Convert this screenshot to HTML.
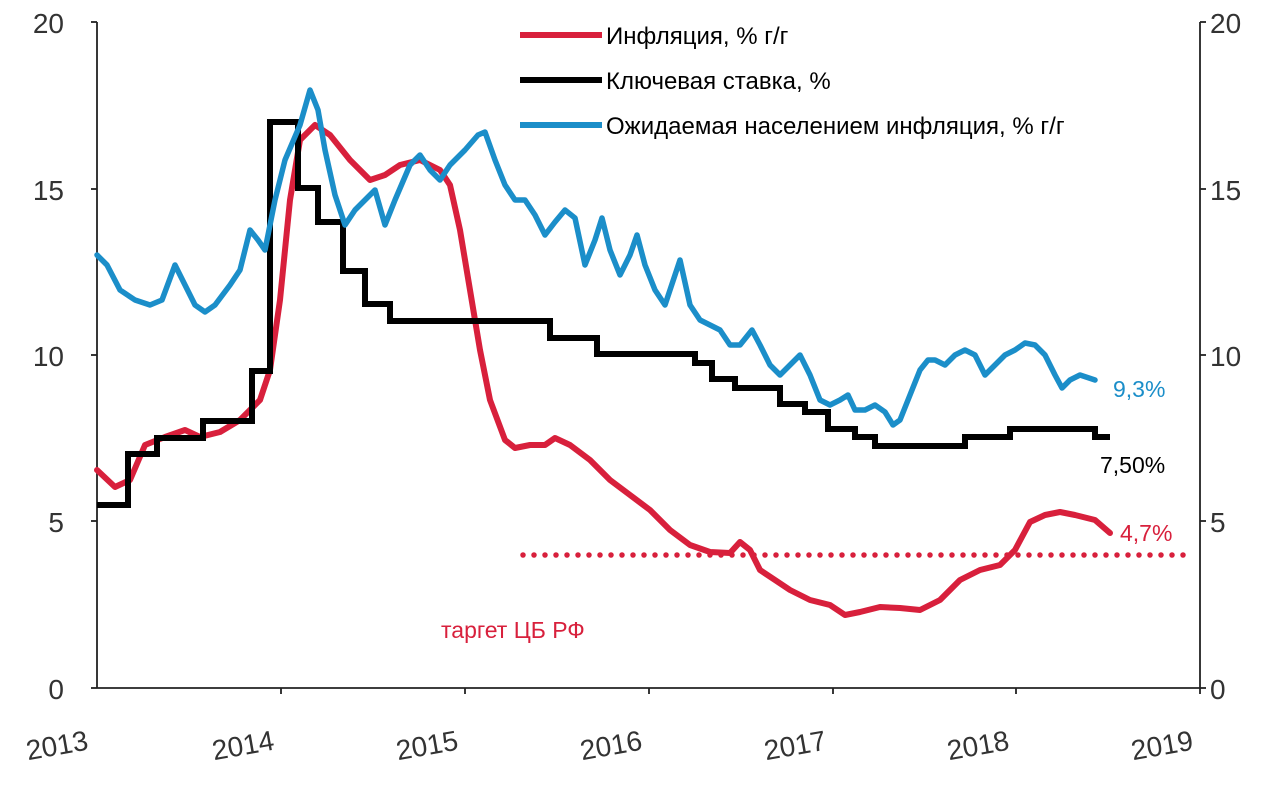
<!DOCTYPE html>
<html><head><meta charset="utf-8"><style>
body{margin:0;background:#fff;}
svg text{font-family:"Liberation Sans",sans-serif;}
</style></head><body>
<svg width="1280" height="792" viewBox="0 0 1280 792" xmlns="http://www.w3.org/2000/svg">
<rect width="1280" height="792" fill="#fff"/>
<g stroke="#222" stroke-width="1.8" fill="none">
<line x1="97" y1="22" x2="97" y2="688"/>
<line x1="1200" y1="22" x2="1200" y2="688"/>
<line x1="97" y1="688" x2="1200" y2="688"/>
<line x1="91" y1="22" x2="97" y2="22"/><line x1="91" y1="189" x2="97" y2="189"/><line x1="91" y1="355" x2="97" y2="355"/><line x1="91" y1="521" x2="97" y2="521"/><line x1="91" y1="688" x2="97" y2="688"/>
<line x1="1200" y1="22" x2="1206" y2="22"/><line x1="1200" y1="189" x2="1206" y2="189"/><line x1="1200" y1="355" x2="1206" y2="355"/><line x1="1200" y1="521" x2="1206" y2="521"/><line x1="1200" y1="688" x2="1206" y2="688"/>
<line x1="281" y1="688" x2="281" y2="694"/><line x1="465" y1="688" x2="465" y2="694"/><line x1="649" y1="688" x2="649" y2="694"/><line x1="833" y1="688" x2="833" y2="694"/><line x1="1016" y1="688" x2="1016" y2="694"/><line x1="1200" y1="688" x2="1200" y2="694"/>
</g>
<g font-size="28" fill="#333" text-anchor="end">
<text x="64" y="33">20</text><text x="64" y="200">15</text><text x="64" y="366">10</text><text x="64" y="532">5</text><text x="64" y="699">0</text>
</g>
<g font-size="28" fill="#333" text-anchor="start">
<text x="1210" y="33">20</text><text x="1210" y="200">15</text><text x="1210" y="366">10</text><text x="1210" y="532">5</text><text x="1210" y="699">0</text>
</g>
<g font-size="28" fill="#333" text-anchor="middle">
<text x="57" y="755" transform="rotate(-10 57 745)">2013</text>
<text x="243" y="755" transform="rotate(-10 243 745)">2014</text>
<text x="427" y="755" transform="rotate(-10 427 745)">2015</text>
<text x="611" y="755" transform="rotate(-10 611 745)">2016</text>
<text x="795" y="755" transform="rotate(-10 795 745)">2017</text>
<text x="978" y="755" transform="rotate(-10 978 745)">2018</text>
<text x="1162" y="755" transform="rotate(-10 1162 745)">2019</text>
</g>
<line x1="523" y1="555" x2="1190" y2="555" stroke="#d8203c" stroke-width="5.5" stroke-dasharray="0 11" stroke-linecap="round"/>
<polyline fill="none" stroke="#d8203c" stroke-width="6" stroke-linejoin="round" stroke-linecap="round" points="97,470 115,487 130,480 145,445 165,437 185,430 200,437 220,432 240,420 260,400 270,370 280,300 290,200 300,140 315,125 330,135 350,160 370,180 385,175 400,165 420,160 440,170 450,185 460,230 470,290 480,350 490,400 505,440 515,448 530,445 545,445 555,438 570,445 590,460 610,480 630,495 650,510 670,530 690,545 710,552 730,553 740,542 750,550 760,570 775,580 790,590 810,600 830,605 845,615 860,612 880,607 900,608 920,610 940,600 960,580 980,570 1000,565 1015,550 1030,522 1045,515 1060,512 1075,515 1095,520 1110,533"/>
<polyline fill="none" stroke="#000" stroke-width="6" points="97,505 128,505 128,454 157,454 157,438 203,438 203,421 252,421 252,371 270,371 270,122 298,122 298,188 318,188 318,222 343,222 343,271 365,271 365,304 390,304 390,321 550,321 550,338 597,338 597,354 695,354 695,363 712,363 712,379 735,379 735,388 780,388 780,404 805,404 805,412 828,412 828,429 855,429 855,437 875,437 875,446 965,446 965,437 1010,437 1010,429 1095,429 1095,437 1110,437"/>
<polyline fill="none" stroke="#1b8ec9" stroke-width="5.5" stroke-linejoin="round" stroke-linecap="round" points="97,255 107,265 120,290 135,300 150,305 162,300 175,265 185,285 195,305 205,312 215,305 230,285 240,270 250,230 258,240 265,250 275,200 285,160 300,125 310,90 318,110 325,150 335,195 345,225 355,210 365,200 375,190 385,225 395,200 410,165 420,155 430,170 440,180 450,165 465,150 478,135 485,132 495,160 505,185 515,200 525,200 535,215 545,235 555,222 565,210 575,218 585,265 595,240 602,218 610,250 620,275 630,255 637,235 645,265 655,290 665,305 675,275 680,260 690,305 700,320 710,325 720,330 730,345 740,345 752,330 760,345 770,365 780,375 790,365 800,355 810,375 820,400 830,405 840,400 848,395 855,410 865,410 875,405 885,412 893,425 900,420 910,395 920,370 928,360 935,360 945,365 955,355 965,350 975,355 985,375 995,365 1005,355 1015,350 1025,343 1035,345 1045,355 1055,375 1062,388 1070,380 1080,375 1095,380"/>
<line x1="520" y1="35" x2="602" y2="35" stroke="#d8203c" stroke-width="6"/>
<line x1="520" y1="80" x2="602" y2="80" stroke="#000" stroke-width="6"/>
<line x1="520" y1="125" x2="602" y2="125" stroke="#1b8ec9" stroke-width="6"/>
<g font-size="24" fill="#000">
<text x="606" y="44">Инфляция, % г/г</text>
<text x="606" y="89">Ключевая ставка, %</text>
<text x="606" y="134">Ожидаемая населением инфляция, % г/г</text>
</g>
<text x="1113" y="397" font-size="23" fill="#1b8ec9">9,3%</text>
<text x="1100" y="473" font-size="23" fill="#000">7,50%</text>
<text x="1120" y="541" font-size="23" fill="#d8203c">4,7%</text>
<text x="441" y="638" font-size="23" fill="#d8203c">таргет ЦБ РФ</text>
</svg>
</body></html>
